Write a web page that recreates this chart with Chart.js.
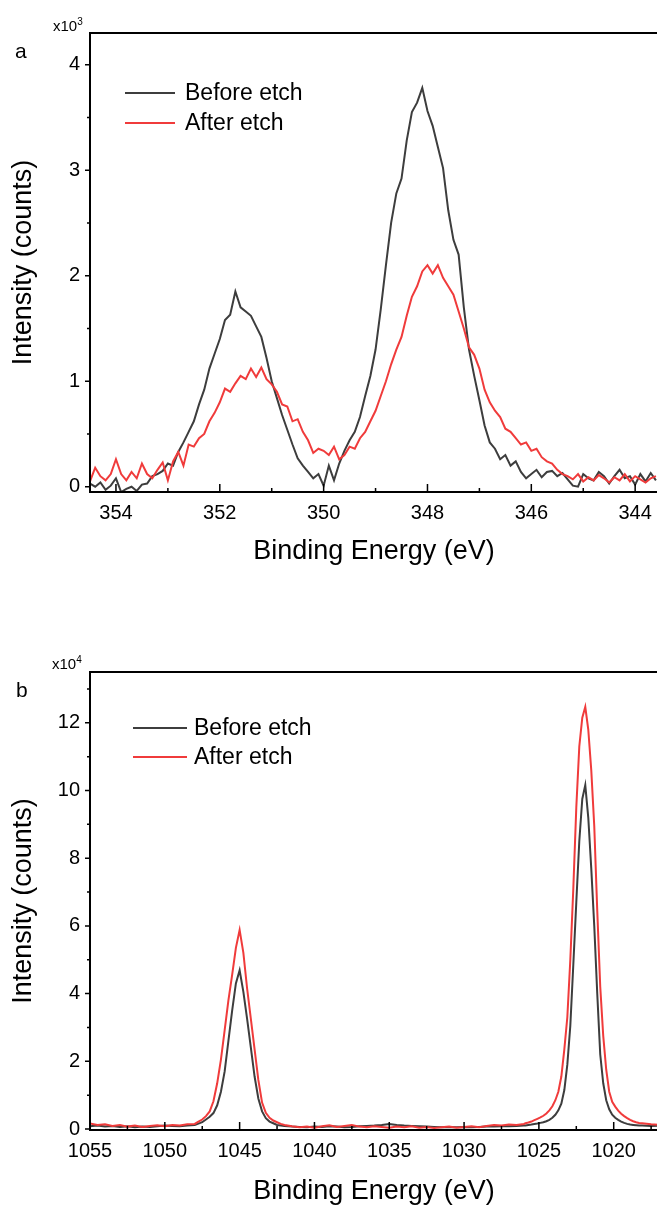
<!DOCTYPE html>
<html>
<head>
<meta charset="utf-8">
<script src="https://cdn.jsdelivr.net/npm/chart.js@4.4.1/dist/chart.umd.min.js"></script>
<style>
  html, body { margin: 0; padding: 0; background: #fff; }
  body { width: 657px; height: 1209px; overflow: hidden; position: relative; }
  .panel { position: absolute; left: 0; width: 662px; height: 570px; }
  #panelA { top: 0; }
  #panelB { top: 640px; }
</style>
</head>
<body>
<div class="panel" id="panelA"><canvas id="chartA" width="662" height="570"></canvas></div>
<div class="panel" id="panelB"><canvas id="chartB" width="662" height="570"></canvas></div>
<script>
// --- panel a : binding energy (eV) and intensity (x10^3 counts) ---
const energyA = [
  354.5, 354.4, 354.3, 354.2, 354.1, 354.0, 353.9, 353.8, 353.7, 353.6,
  353.5, 353.4, 353.3, 353.2, 353.1, 353.0, 352.9, 352.8, 352.7, 352.6,
  352.5, 352.4, 352.3, 352.2, 352.1, 352.0, 351.9, 351.8, 351.7, 351.6,
  351.5, 351.4, 351.3, 351.2, 351.1, 351.0, 350.9, 350.8, 350.7, 350.6,
  350.5, 350.4, 350.3, 350.2, 350.1, 350.0, 349.9, 349.8, 349.7, 349.6,
  349.5, 349.4, 349.3, 349.2, 349.1, 349.0, 348.9, 348.8, 348.7, 348.6,
  348.5, 348.4, 348.3, 348.2, 348.1, 348.0, 347.9, 347.8, 347.7, 347.6,
  347.5, 347.4, 347.3, 347.2, 347.1, 347.0, 346.9, 346.8, 346.7, 346.6,
  346.5, 346.4, 346.3, 346.2, 346.1, 346.0, 345.9, 345.8, 345.7, 345.6,
  345.5, 345.4, 345.3, 345.2, 345.1, 345.0, 344.9, 344.8, 344.7, 344.6,
  344.5, 344.4, 344.3, 344.2, 344.1, 344.0, 343.9, 343.8, 343.7, 343.6
];
const beforeA = [
  0.03, 0.00, 0.04, -0.03, 0.01, 0.08, -0.05, -0.02, 0.00, -0.04,
  0.02, 0.03, 0.10, 0.12, 0.15, 0.22, 0.20, 0.33, 0.42, 0.52,
  0.62, 0.78, 0.92, 1.12, 1.26, 1.40, 1.58, 1.63, 1.85, 1.70,
  1.66, 1.62, 1.52, 1.42, 1.22, 1.00, 0.84, 0.68, 0.54, 0.40,
  0.27, 0.20, 0.14, 0.08, 0.12, 0.01, 0.20, 0.06, 0.22, 0.34,
  0.44, 0.52, 0.66, 0.86, 1.05, 1.30, 1.68, 2.10, 2.50, 2.78,
  2.92, 3.28, 3.55, 3.64, 3.78, 3.56, 3.42, 3.22, 3.02, 2.62,
  2.34, 2.20, 1.70, 1.30, 1.05, 0.82, 0.58, 0.42, 0.36, 0.26,
  0.30, 0.20, 0.24, 0.14, 0.08, 0.12, 0.16, 0.09, 0.14, 0.15,
  0.10, 0.13, 0.07, 0.01, 0.00, 0.12, 0.08, 0.06, 0.14, 0.10,
  0.03, 0.10, 0.16, 0.08, 0.10, 0.02, 0.12, 0.05, 0.13, 0.06
];
const afterA = [
  0.05, 0.18, 0.10, 0.06, 0.12, 0.26, 0.12, 0.06, 0.14, 0.08,
  0.22, 0.12, 0.08, 0.16, 0.23, 0.06, 0.24, 0.33, 0.20, 0.40,
  0.38, 0.46, 0.50, 0.62, 0.70, 0.80, 0.93, 0.90, 0.98, 1.05,
  1.02, 1.12, 1.04, 1.13, 1.02, 0.97, 0.90, 0.78, 0.76, 0.62,
  0.64, 0.52, 0.44, 0.32, 0.36, 0.34, 0.30, 0.38, 0.26, 0.30,
  0.38, 0.36, 0.46, 0.52, 0.62, 0.72, 0.86, 1.00, 1.16, 1.30,
  1.42, 1.62, 1.80, 1.90, 2.04, 2.10, 2.02, 2.10, 1.98, 1.90,
  1.82, 1.66, 1.50, 1.32, 1.25, 1.12, 0.92, 0.80, 0.72, 0.66,
  0.55, 0.52, 0.46, 0.40, 0.42, 0.34, 0.36, 0.28, 0.24, 0.22,
  0.16, 0.12, 0.10, 0.07, 0.12, 0.05, 0.09, 0.06, 0.11, 0.08,
  0.04, 0.09, 0.06, 0.12, 0.05, 0.10, 0.07, 0.04, 0.08, 0.10
];
const xTicksA = [354, 352, 350, 348, 346, 344];
const xMinorA = [353, 351, 349, 347, 345];
const yTicksA = [0, 1, 2, 3, 4];
const yMinorA = [0.5, 1.5, 2.5, 3.5];

// --- panel b : binding energy (eV) and intensity (x10^4 counts) ---
const energyB = [
  1055, 1054.5, 1054, 1053.5, 1053, 1052.5, 1052, 1051.5, 1051, 1050.5,
  1050, 1049.5, 1049, 1048.5, 1048,
  1047.75, 1047.5, 1047.25, 1047, 1046.75, 1046.5, 1046.25, 1046, 1045.75, 1045.5,
  1045.25, 1045, 1044.75, 1044.5, 1044.25, 1044, 1043.75, 1043.5, 1043.25, 1043,
  1042.75, 1042.5, 1042.25,
  1042, 1041.5, 1041, 1040.5, 1040, 1039.5, 1039, 1038.5, 1038, 1037.5,
  1037, 1036.5, 1036, 1035.5, 1035, 1034.5, 1034, 1033.5, 1033, 1032.5,
  1032, 1031.5, 1031, 1030.5, 1030, 1029.5, 1029, 1028.5, 1028, 1027.5,
  1027, 1026.5, 1026,
  1025.9, 1025.7, 1025.5, 1025.3, 1025.1, 1024.9, 1024.7, 1024.5, 1024.3, 1024.1,
  1023.9, 1023.7, 1023.5, 1023.3, 1023.1, 1022.9, 1022.7, 1022.5, 1022.3, 1022.1,
  1021.9, 1021.7, 1021.5, 1021.3, 1021.1, 1020.9, 1020.7, 1020.5, 1020.3, 1020.1,
  1019.9, 1019.7, 1019.5, 1019.3, 1019.1, 1018.9, 1018.7, 1018.5, 1018.3, 1018.1,
  1017.5, 1017
];
const beforeB = [
  0.08, 0.10, 0.07, 0.09, 0.06, 0.08, 0.05, 0.07, 0.06, 0.08,
  0.10, 0.09, 0.08, 0.10, 0.12,
  0.16, 0.20, 0.28, 0.36, 0.47, 0.70, 1.10, 1.70, 2.60, 3.50,
  4.30, 4.69, 4.05, 3.25, 2.40, 1.55, 0.90, 0.52, 0.32, 0.22,
  0.17, 0.12, 0.10,
  0.09, 0.07, 0.06, 0.05, 0.07, 0.06, 0.08, 0.07, 0.05, 0.06,
  0.08, 0.09, 0.10, 0.12, 0.15, 0.12, 0.10, 0.09, 0.08, 0.07,
  0.06, 0.05, 0.06, 0.05, 0.06, 0.05, 0.06, 0.07, 0.07, 0.08,
  0.08, 0.09, 0.10,
  0.10, 0.12, 0.13, 0.15, 0.16, 0.18, 0.20, 0.23, 0.27, 0.33,
  0.42, 0.55, 0.75, 1.15, 1.90, 3.05, 4.85, 6.70, 8.50, 9.75,
  10.16, 9.20, 7.70, 6.00, 4.00, 2.20, 1.35, 0.85, 0.58, 0.42,
  0.33, 0.27, 0.22, 0.18, 0.15, 0.13, 0.12, 0.11, 0.10, 0.10,
  0.09, 0.10
];
const afterB = [
  0.16, 0.12, 0.14, 0.09, 0.12, 0.07, 0.10, 0.06, 0.09, 0.11,
  0.08, 0.12, 0.10, 0.14, 0.15,
  0.22, 0.28, 0.38, 0.52, 0.82, 1.35, 2.05, 2.92, 3.80, 4.55,
  5.35, 5.88, 5.20, 4.15, 3.25, 2.35, 1.45, 0.78, 0.48, 0.33,
  0.25, 0.20, 0.15,
  0.12, 0.08, 0.05, 0.07, 0.04, 0.08, 0.11, 0.06, 0.09, 0.12,
  0.07, 0.05, 0.08, 0.06, 0.04, 0.07, 0.05, 0.08, 0.04, 0.06,
  0.03, 0.05, 0.07, 0.04, 0.06, 0.08, 0.05, 0.09, 0.12, 0.10,
  0.13, 0.12, 0.15,
  0.17, 0.19, 0.22, 0.26, 0.30, 0.34, 0.39, 0.46, 0.55, 0.67,
  0.85, 1.10, 1.55, 2.35, 3.30, 5.00, 7.10, 9.50, 11.30, 12.15,
  12.47, 11.80, 10.60, 8.95, 6.45, 4.20, 2.75, 1.75, 1.10, 0.80,
  0.66, 0.54, 0.45, 0.38, 0.32, 0.27, 0.23, 0.20, 0.18, 0.17,
  0.14, 0.12
];
const xTicksB = [1055, 1050, 1045, 1040, 1035, 1030, 1025, 1020];
const xMinorB = [1052.5, 1047.5, 1042.5, 1037.5, 1032.5, 1027.5, 1022.5, 1017.5];
const yTicksB = [0, 2, 4, 6, 8, 10, 12];
const yMinorB = [1, 3, 5, 7, 9, 11, 13];

const seriesNames = ['Before etch', 'After etch'];
const seriesColors = ['#3d3d3d', '#f03b3b'];

const FONT = "'Liberation Sans', Arial, sans-serif";
Chart.defaults.font.family = FONT;
Chart.defaults.color = '#000';

// frame, minor/major tick marks, legend and panel labels
const framePlugin = {
  id: 'frame',
  afterDraw(chart, args, o) {
    const { ctx, chartArea: a, scales: { x, y } } = chart;
    ctx.save();
    ctx.strokeStyle = '#000';
    ctx.lineWidth = 1.5;
    ctx.beginPath();
    o.xMajor.forEach(v => {
      const px = x.getPixelForValue(v);
      ctx.moveTo(px, a.bottom); ctx.lineTo(px, a.bottom - 8);
    });
    o.xMinor.forEach(v => {
      const px = x.getPixelForValue(v);
      if (px < a.left || px > a.right) return;
      ctx.moveTo(px, a.bottom); ctx.lineTo(px, a.bottom - 4);
    });
    o.yMajor.forEach(v => {
      const py = y.getPixelForValue(v);
      ctx.moveTo(a.left, py); ctx.lineTo(a.left - 5, py);
    });
    o.yMinor.forEach(v => {
      const py = y.getPixelForValue(v);
      if (py < a.top) return;
      ctx.moveTo(a.left, py); ctx.lineTo(a.left - 3, py);
    });
    ctx.stroke();

    ctx.lineWidth = 2;
    ctx.strokeRect(a.left, a.top, a.right - a.left, a.bottom - a.top);

    // legend
    const lg = o.legend;
    ctx.font = '23px ' + FONT;
    ctx.textBaseline = 'middle';
    ctx.textAlign = 'left';
    seriesNames.forEach((name, i) => {
      const ly = lg.rows[i];
      ctx.strokeStyle = seriesColors[i];
      ctx.lineWidth = 2;
      ctx.beginPath();
      ctx.moveTo(lg.x0, ly); ctx.lineTo(lg.x1, ly);
      ctx.stroke();
      ctx.fillStyle = '#000';
      ctx.fillText(name, lg.textX, ly + 1);
    });

    // panel letter and multiplier
    ctx.fillStyle = '#000';
    ctx.textBaseline = 'alphabetic';
    ctx.font = '21px ' + FONT;
    ctx.fillText(o.letter, o.letterX, o.letterY);
    ctx.font = '15px ' + FONT;
    ctx.fillText('x10', o.multX, o.multY);
    const w = ctx.measureText('x10').width;
    ctx.font = '10px ' + FONT;
    ctx.fillText(o.exp, o.multX + w, o.multY - 6);
    ctx.restore();
  }
};

function makePanel(id, cfg) {
  const datasets = [cfg.before, cfg.after].map((vals, i) => ({
    label: seriesNames[i],
    data: cfg.energy.map((e, k) => ({ x: e, y: vals[k] })),
    borderColor: seriesColors[i],
    borderWidth: 2,
    pointRadius: 0,
    fill: false,
    tension: 0,
    order: i === 1 ? 0 : 1
  }));
  return new Chart(document.getElementById(id), {
    type: 'line',
    data: { datasets },
    plugins: [framePlugin],
    options: {
      responsive: false,
      animation: false,
      devicePixelRatio: 1,
      layout: { padding: { top: cfg.top, right: 4, left: 0, bottom: 0 }, autoPadding: false },
      plugins: {
        legend: { display: false },
        tooltip: { enabled: false },
        frame: {
          xMajor: cfg.xTicks, xMinor: cfg.xMinor, yMajor: cfg.yTicks, yMinor: cfg.yMinor,
          legend: cfg.legend, letter: cfg.letter, letterX: cfg.letterX, letterY: cfg.letterY,
          multX: cfg.multX, multY: cfg.multY, exp: cfg.exp
        }
      },
      scales: {
        x: {
          type: 'linear',
          reverse: true,
          min: cfg.xMin,
          max: cfg.xMax,
          grid: { display: false, drawTicks: false },
          border: { display: false },
          afterBuildTicks: s => { s.ticks = cfg.xTicks.map(v => ({ value: v })); },
          afterFit: s => { s.height = cfg.xHeight; },
          ticks: { padding: 9, font: { size: 20 }, color: '#000', maxRotation: 0, autoSkip: false, callback: v => String(v) },
          title: { display: true, text: 'Binding Energy (eV)', font: { size: 27 }, color: '#000', padding: { top: 0, bottom: 2 } }
        },
        y: {
          type: 'linear',
          min: cfg.yMin,
          max: cfg.yMax,
          grid: { display: false, drawTicks: false },
          border: { display: false },
          afterBuildTicks: s => { s.ticks = cfg.yTicks.map(v => ({ value: v })); },
          afterFit: s => { s.width = 90; },
          ticks: { padding: 10, font: { size: 20 }, color: '#000', callback: v => String(v) },
          title: { display: true, text: 'Intensity (counts)', font: { size: 27 }, color: '#000', padding: { top: 7, bottom: 0 } }
        }
      }
    }
  });
}

makePanel('chartA', {
  energy: energyA, before: beforeA, after: afterA,
  xTicks: xTicksA, xMinor: xMinorA, yTicks: yTicksA, yMinor: yMinorA,
  xMin: 343.56, xMax: 354.5, yMin: -0.05, yMax: 4.3,
  top: 33, xHeight: 78,
  legend: { x0: 125, x1: 175, textX: 185, rows: [93, 123] },
  letter: 'a', letterX: 15, letterY: 58, multX: 53, multY: 31, exp: '3'
});

makePanel('chartB', {
  energy: energyB, before: beforeB, after: afterB,
  xTicks: xTicksB, xMinor: xMinorB, yTicks: yTicksB, yMinor: yMinorB,
  xMin: 1017.04, xMax: 1055, yMin: -0.03, yMax: 13.5,
  top: 32, xHeight: 80,
  legend: { x0: 133, x1: 187, textX: 194, rows: [88, 117] },
  letter: 'b', letterX: 16, letterY: 57, multX: 52, multY: 29, exp: '4'
});
</script>
</body>
</html>
